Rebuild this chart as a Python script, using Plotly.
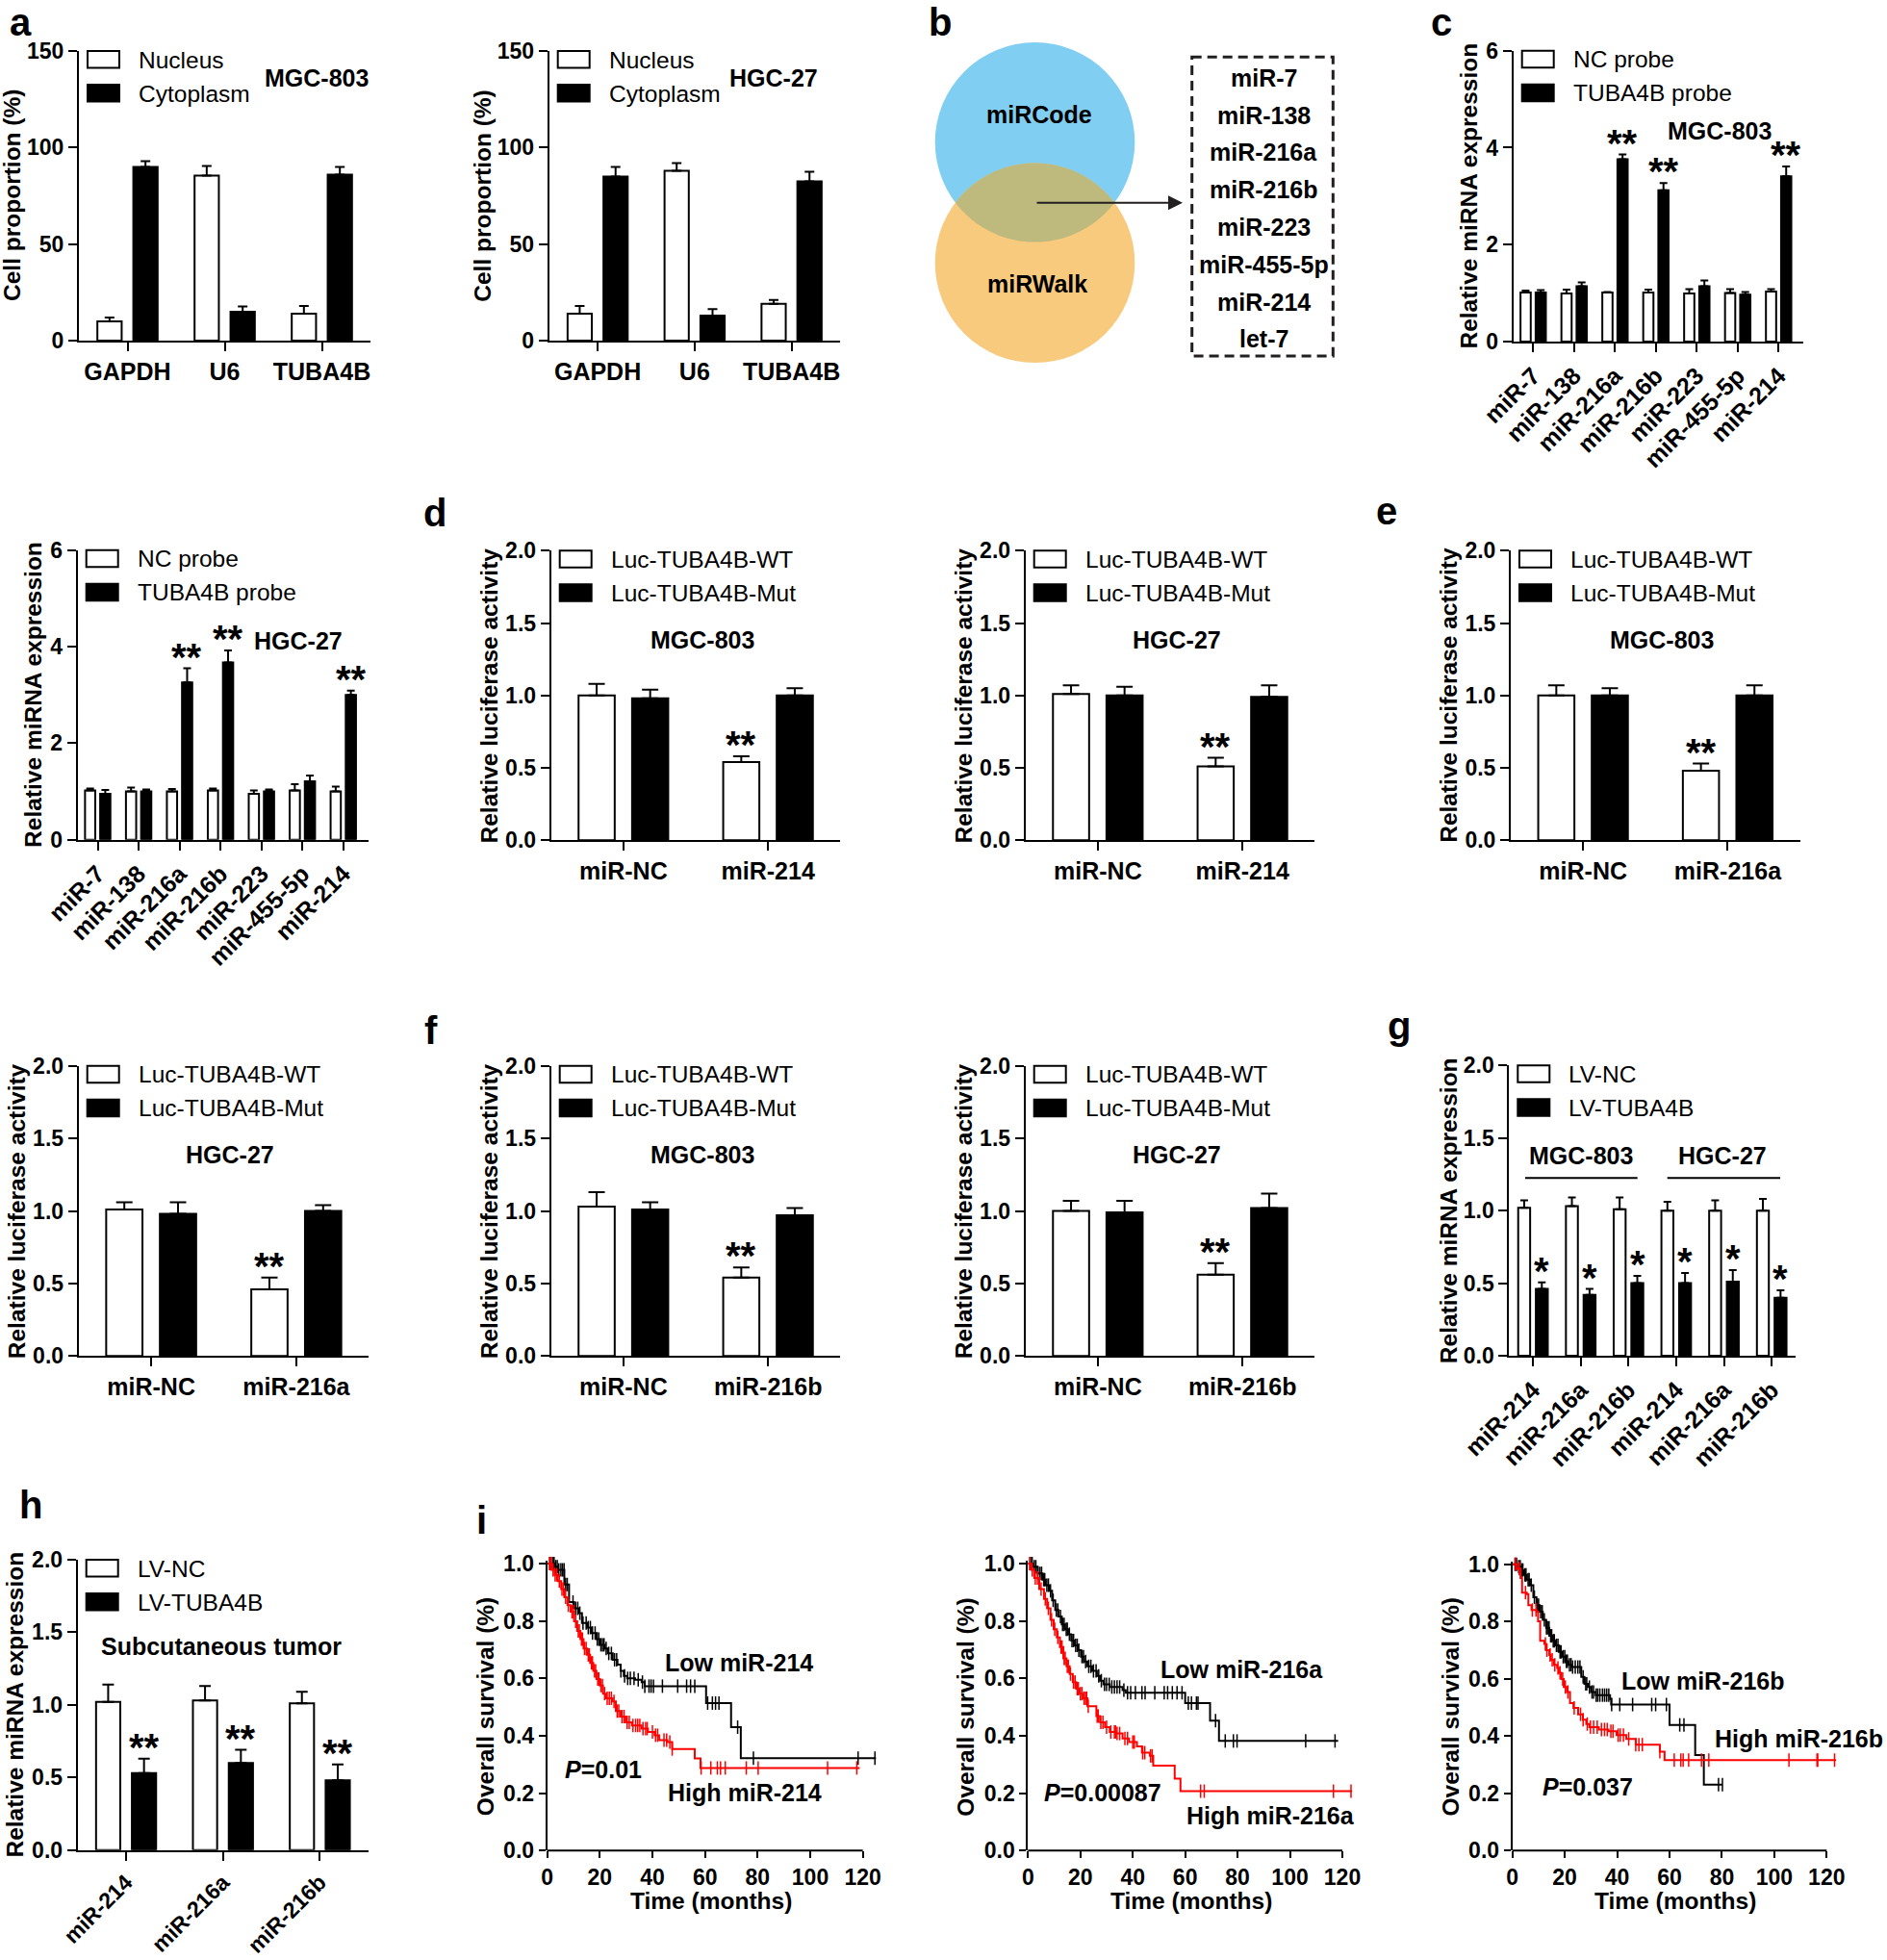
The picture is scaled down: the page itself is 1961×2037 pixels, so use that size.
import numpy as np
import plotly.graph_objects as go

W, H = 1961, 2037
FONT = "Liberation Sans, Arial, Helvetica, sans-serif"

# ---------------- data ----------------
a_cats = ["GAPDH", "U6", "TUBA4B"]
a1_nucleus = [10, 85.5, 14]
a1_nucleus_err = [2, 5, 4]
a1_cytoplasm = [90, 15, 86]
a1_cytoplasm_err = [3, 2.7, 4]
a2_nucleus = [14, 88, 19]
a2_nucleus_err = [4, 4, 2]
a2_cytoplasm = [85, 13, 82.5]
a2_cytoplasm_err = [5, 3.3, 5]

venn_sets = ["miRCode", "miRWalk"]
venn_list = ["miR-7", "miR-138", "miR-216a", "miR-216b", "miR-223", "miR-455-5p", "miR-214", "let-7"]

c_cats = ["miR-7", "miR-138", "miR-216a", "miR-216b", "miR-223", "miR-455-5p", "miR-214"]
c1_nc = [1.01, 0.99, 1.01, 1.01, 0.99, 1.00, 1.03]
c1_nc_err = [0.04, 0.08, 0.01, 0.06, 0.09, 0.08, 0.05]
c1_tuba = [1.01, 1.14, 3.76, 3.12, 1.14, 0.97, 3.41]
c1_tuba_err = [0.05, 0.08, 0.10, 0.15, 0.12, 0.05, 0.20]
c2_nc = [1.02, 1.00, 1.00, 1.02, 0.95, 1.02, 1.00]
c2_nc_err = [0.04, 0.08, 0.05, 0.04, 0.07, 0.13, 0.10]
c2_tuba = [0.95, 1.00, 3.26, 3.67, 1.00, 1.21, 3.00]
c2_tuba_err = [0.08, 0.04, 0.29, 0.25, 0.04, 0.12, 0.09]

d_cats = ["miR-NC", "miR-214"]
d1_wt = [1.00, 0.54]
d1_wt_err = [0.08, 0.04]
d1_mut = [0.98, 1.00]
d1_mut_err = [0.06, 0.05]
d2_wt = [1.01, 0.51]
d2_wt_err = [0.06, 0.06]
d2_mut = [1.00, 0.99]
d2_mut_err = [0.06, 0.08]

e_cats = ["miR-NC", "miR-216a"]
e1_wt = [1.00, 0.48]
e1_wt_err = [0.07, 0.05]
e1_mut = [1.00, 1.00]
e1_mut_err = [0.05, 0.07]
e2_wt = [1.01, 0.46]
e2_wt_err = [0.05, 0.08]
e2_mut = [0.98, 1.00]
e2_mut_err = [0.08, 0.04]

f_cats = ["miR-NC", "miR-216b"]
f1_wt = [1.03, 0.54]
f1_wt_err = [0.10, 0.07]
f1_mut = [1.01, 0.97]
f1_mut_err = [0.05, 0.05]
f2_wt = [1.00, 0.56]
f2_wt_err = [0.07, 0.08]
f2_mut = [0.99, 1.02]
f2_mut_err = [0.08, 0.10]

g_cats = ["miR-214", "miR-216a", "miR-216b", "miR-214", "miR-216a", "miR-216b"]
g_nc = [1.02, 1.03, 1.01, 1.00, 1.00, 1.00]
g_nc_err = [0.05, 0.06, 0.08, 0.06, 0.07, 0.08]
g_tuba = [0.46, 0.42, 0.50, 0.50, 0.51, 0.40]
g_tuba_err = [0.045, 0.04, 0.05, 0.07, 0.08, 0.05]

h_cats = ["miR-214", "miR-216a", "miR-216b"]
h_nc = [1.02, 1.03, 1.01]
h_nc_err = [0.12, 0.10, 0.08]
h_tuba = [0.53, 0.60, 0.48]
h_tuba_err = [0.10, 0.09, 0.11]

# Kaplan-Meier step curves (months, survival)
i1_low_t = [0, 2.8, 4, 6.5, 8.3, 10.2, 12.0, 13.2, 15.1, 16.9, 18.7, 19.9, 21.8, 23.0, 24.9, 26.7, 27.9, 29.1, 30.4, 33.4, 35.9, 37.1, 60.4, 69.9, 73.6, 125]
i1_low_s = [1.0, 0.989, 0.978, 0.927, 0.866, 0.844, 0.827, 0.793, 0.777, 0.758, 0.737, 0.717, 0.704, 0.687, 0.665, 0.648, 0.626, 0.609, 0.600, 0.595, 0.587, 0.573, 0.514, 0.430, 0.322, 0.322]
i1_low_cens = [1.2, 2.0, 2.6, 3.2, 3.8, 4.4, 5.2, 5.8, 6.4, 7.0, 7.6, 9.8, 10.8, 11.6, 12.4, 13.6, 14.8, 15.6, 16.4, 17.2, 18.2, 19.0, 19.6, 20.4, 21.0, 21.6, 22.4, 23.4, 24.4, 25.6, 26.4, 28.0, 29.4, 30.6, 31.6, 33.0, 34.6, 36.2, 37.1, 38.7, 39.5, 40.4, 43.8, 49.6, 53.0, 54.5, 56.1, 61.0, 62.8, 64.0, 65.3, 72.4, 78.4, 118.2, 124.6]
i1_high_t = [0, 1.6, 2.8, 4, 5.3, 6.5, 7.7, 8.9, 10.2, 11.4, 12.6, 13.8, 15.1, 16.3, 17.5, 18.7, 20.0, 21.2, 22.4, 24.9, 26.1, 27.9, 29.8, 32.2, 35.9, 38.3, 40.8, 42.6, 45.7, 47.5, 56.1, 58.3, 118.8]
i1_high_s = [1.0, 0.978, 0.961, 0.939, 0.911, 0.883, 0.855, 0.832, 0.799, 0.765, 0.737, 0.704, 0.682, 0.654, 0.626, 0.598, 0.575, 0.547, 0.531, 0.520, 0.486, 0.467, 0.447, 0.436, 0.425, 0.413, 0.402, 0.385, 0.378, 0.354, 0.321, 0.288, 0.288]
i1_high_cens = [0.8, 1.4, 2.2, 3.0, 3.6, 4.6, 5.6, 6.2, 7.0, 8.0, 9.4, 10.0, 10.8, 11.8, 12.2, 13.0, 13.4, 14.2, 14.8, 15.6, 16.0, 16.8, 17.2, 18.0, 18.4, 19.2, 19.6, 20.4, 21.0, 21.8, 22.8, 23.6, 24.4, 25.4, 26.6, 27.2, 28.4, 29.2, 30.4, 31.2, 32.6, 33.6, 34.4, 35.2, 36.4, 37.4, 38.0, 40.0, 41.2, 42.0, 44.4, 45.4, 46.6, 47.5, 58.5, 62.2, 64.7, 65.9, 67.7, 75.7, 80.2, 106.6, 117.7]

i2_low_t = [0, 1.8, 3.7, 5.5, 6.7, 8.0, 9.2, 10.4, 11.6, 12.9, 14.1, 15.3, 16.5, 17.8, 19.0, 20.2, 21.4, 22.7, 24.5, 26.3, 27.5, 28.8, 31.2, 36.1, 37.3, 60.0, 69.5, 72.9, 118.4]
i2_low_s = [1.0, 0.989, 0.966, 0.944, 0.925, 0.905, 0.872, 0.838, 0.816, 0.788, 0.771, 0.754, 0.732, 0.715, 0.698, 0.676, 0.659, 0.642, 0.626, 0.609, 0.592, 0.579, 0.570, 0.559, 0.550, 0.514, 0.453, 0.382, 0.382]
i2_low_cens = [1.0, 1.6, 2.4, 3.0, 3.8, 4.6, 5.2, 6.0, 6.4, 7.2, 7.8, 8.6, 9.6, 10.8, 11.4, 12.4, 13.2, 13.8, 14.6, 15.0, 15.8, 16.8, 17.4, 18.2, 18.8, 19.4, 20.6, 21.2, 22.0, 23.2, 24.0, 25.0, 26.0, 27.0, 28.0, 29.2, 30.0, 31.0, 32.0, 33.0, 34.0, 35.0, 36.6, 38.0, 39.2, 41.0, 43.5, 44.7, 48.4, 52.0, 53.3, 55.1, 56.9, 58.8, 61.2, 62.4, 64.3, 64.9, 71.6, 75.3, 78.4, 79.8, 106.0, 117.2]
i2_high_t = [0, 1.2, 2.4, 4.3, 6.1, 7.3, 8.6, 9.8, 11.0, 12.2, 13.5, 14.7, 15.9, 17.1, 18.4, 19.6, 20.8, 22.7, 26.1, 27.5, 29.4, 31.2, 33.7, 36.1, 38.6, 41.6, 43.5, 46.5, 47.8, 56.0, 58.2, 123.7]
i2_high_s = [1.0, 0.978, 0.950, 0.911, 0.877, 0.844, 0.804, 0.771, 0.743, 0.709, 0.670, 0.642, 0.615, 0.587, 0.564, 0.547, 0.531, 0.503, 0.469, 0.447, 0.430, 0.413, 0.408, 0.391, 0.378, 0.363, 0.341, 0.330, 0.296, 0.251, 0.207, 0.207]
i2_high_cens = [0.6, 1.6, 2.8, 3.6, 5.0, 6.6, 7.8, 9.0, 10.2, 11.4, 12.6, 13.0, 13.8, 14.2, 15.0, 15.4, 16.2, 17.4, 18.0, 18.8, 19.2, 20.0, 20.6, 21.4, 22.0, 22.4, 23.0, 26.4, 26.8, 27.8, 28.6, 30.0, 31.6, 33.0, 33.4, 34.0, 35.0, 37.0, 38.0, 40.0, 40.6, 43.8, 44.6, 46.8, 47.4, 65.9, 67.3, 116.6, 123.3]

i3_low_t = [0, 1.8, 3.1, 4.3, 5.5, 6.7, 8.0, 9.2, 10.4, 11.6, 12.9, 14.1, 15.3, 16.5, 17.7, 19.0, 20.2, 21.4, 22.6, 26.3, 27.5, 28.8, 30.0, 31.8, 37.3, 37.7, 60.0, 69.8, 73.1, 80.2]
i3_low_s = [1.0, 0.991, 0.980, 0.963, 0.946, 0.927, 0.885, 0.857, 0.834, 0.806, 0.778, 0.750, 0.733, 0.717, 0.694, 0.677, 0.661, 0.649, 0.641, 0.607, 0.582, 0.571, 0.554, 0.543, 0.529, 0.510, 0.439, 0.334, 0.230, 0.230]
i3_low_cens = [1.0, 1.6, 2.4, 3.0, 3.6, 4.0, 4.8, 5.2, 6.0, 6.4, 7.2, 8.4, 9.6, 10.0, 10.8, 11.4, 12.2, 13.0, 13.4, 14.0, 14.6, 15.0, 15.6, 16.0, 16.8, 17.4, 18.2, 18.6, 19.4, 20.0, 20.6, 21.0, 21.8, 22.4, 23.0, 24.0, 25.0, 25.8, 27.0, 28.0, 28.4, 29.4, 30.4, 31.0, 32.0, 32.6, 33.4, 34.4, 35.2, 36.0, 36.8, 37.9, 41.0, 45.9, 53.2, 54.7, 58.8, 63.9, 65.5, 78.7, 80.2]
i3_high_t = [0, 1.8, 3.1, 3.7, 5.5, 6.1, 7.3, 9.2, 9.8, 10.6, 12.2, 12.9, 14.1, 14.7, 15.9, 17.1, 17.7, 18.7, 19.6, 20.8, 22.0, 23.3, 25.1, 26.9, 28.2, 29.4, 33.0, 36.7, 39.8, 43.5, 47.1, 56.3, 58.1, 123.6]
i3_high_s = [1.0, 0.985, 0.952, 0.901, 0.896, 0.857, 0.840, 0.834, 0.801, 0.733, 0.722, 0.700, 0.683, 0.666, 0.649, 0.638, 0.621, 0.599, 0.571, 0.554, 0.515, 0.498, 0.476, 0.457, 0.442, 0.431, 0.423, 0.417, 0.403, 0.390, 0.370, 0.345, 0.316, 0.316]
i3_high_cens = [1.2, 2.6, 5.0, 7.6, 9.0, 12.6, 13.2, 14.4, 15.2, 16.2, 17.4, 18.2, 19.2, 20.2, 21.2, 23.6, 26.0, 27.0, 28.6, 29.8, 31.0, 32.4, 34.0, 35.2, 36.2, 37.6, 38.4, 40.4, 41.2, 42.4, 44.4, 47.1, 48.3, 49.6, 56.3, 61.8, 64.3, 65.2, 67.3, 72.2, 75.0, 105.6, 116.3, 116.6, 123.0]

km_x_ticks = [0, 20, 40, 60, 80, 100, 120]
km_y_ticks = [0.0, 0.2, 0.4, 0.6, 0.8, 1.0]

# ---------------- helpers ----------------
def px(x):
    return x / W


def py(y):
    return 1 - y / H


def ids(n):
    return ('x' if n == 1 else f'x{n}', 'y' if n == 1 else f'y{n}',
            'xaxis' if n == 1 else f'xaxis{n}', 'yaxis' if n == 1 else f'yaxis{n}')


def tfont(size, bold=True):
    return dict(family=FONT, size=size, color='black', weight='bold' if bold else 'normal')


fig = go.Figure()
layout = dict(template='none', width=W, height=H,
              margin=dict(l=0, r=0, t=0, b=0, pad=0, autoexpand=False),
              paper_bgcolor='white', plot_bgcolor='white', showlegend=False,
              font=dict(family=FONT, color='black'))
shapes = []
annotations = []


def text(x, y, s, size=25, bold=True, xanchor='center', yanchor='middle', angle=0):
    annotations.append(dict(x=px(x), y=py(y), xref='paper', yref='paper', text=s,
                            showarrow=False, xanchor=xanchor, yanchor=yanchor,
                            textangle=angle, font=tfont(size, bold)))


def legend(ax_x, top, labels):
    for k, (lab, fill) in enumerate(zip(labels, ['white', 'black'])):
        y0 = top + 35 * k
        shapes.append(dict(type='rect', xref='paper', yref='paper',
                           x0=px(ax_x + 9), x1=px(ax_x + 42), y0=py(y0), y1=py(y0 + 17.5),
                           fillcolor=fill, line=dict(color='black', width=2)))
        text(ax_x + 60, y0 + 9, lab, size=24.5, bold=False, xanchor='left')


OFFS = (-0.31, 0.06)
BW = 0.25
AXCOMMON = dict(tickcolor='black', showgrid=False, zeroline=False, fixedrange=True,
                tickmode='array', linewidth=2, linecolor='black', automargin=False,
                tickwidth=2, ticks='outside')


def bar_panel(n, box, xr, yr, ytv, ytt, cats, v_open, e_open, v_fill, e_fill, capw,
              tickangle=0, ticklen=9, xfont=25):
    xa, ya, xk, yk = ids(n)
    x0, x1, ytop, ybot = box
    pos = list(range(len(cats)))
    for v, e, col, off in ((v_open, e_open, 'white', OFFS[0]), (v_fill, e_fill, 'black', OFFS[1])):
        fig.add_trace(go.Bar(
            x=pos, y=v, width=BW, offset=off, xaxis=xa, yaxis=ya,
            marker=dict(color=col, line=dict(color='black', width=2)),
            error_y=dict(type='data', symmetric=False, array=e, arrayminus=[0] * len(v),
                         color='black', thickness=2, width=capw),
            hoverinfo='skip', showlegend=False))
    layout[xk] = dict(domain=[px(x0), px(x1)], range=xr, anchor=ya, tickvals=pos,
                      ticktext=cats, tickangle=tickangle, tickfont=tfont(xfont), showline=True,
                      ticklen=ticklen, **AXCOMMON)
    layout[yk] = dict(domain=[py(ybot), py(ytop)], range=yr, anchor=xa, tickvals=ytv,
                      ticktext=ytt, tickfont=tfont(23), showline=True, ticklen=ticklen,
                      **AXCOMMON)


def stars(n, idxs, vals, errs, off, s):
    xa, ya, _, _ = ids(n)
    for i in idxs:
        annotations.append(dict(x=i + off + BW / 2, y=vals[i] + errs[i], xref=xa, yref=ya,
                                text=s, showarrow=False, xanchor='center', yanchor='middle',
                                yshift=12, font=tfont(40)))


def ytitle(x, box, s):
    text(x, (box[2] + box[3]) / 2, s, size=24.5, angle=-90)


lum_ticks = [0, 0.5, 1.0, 1.5, 2.0]
lum_text = ['0.0', '0.5', '1.0', '1.5', '2.0']

# ---------------- panel a ----------------
A1 = (82, 385, 53, 354)
A2 = (570.7, 873, 53, 354)
bar_panel(1, A1, [-0.5, 2.5], [0, 150], [0, 50, 100, 150], ['0', '50', '100', '150'],
          a_cats, a1_nucleus, a1_nucleus_err, a1_cytoplasm, a1_cytoplasm_err, 5)
bar_panel(2, A2, [-0.5, 2.5], [0, 150], [0, 50, 100, 150], ['0', '50', '100', '150'],
          a_cats, a2_nucleus, a2_nucleus_err, a2_cytoplasm, a2_cytoplasm_err, 5)
legend(A1[0], A1[2], ['Nucleus', 'Cytoplasm'])
legend(A2[0], A2[2], ['Nucleus', 'Cytoplasm'])
text(329, 81, 'MGC-803')
text(804, 81, 'HGC-27')
ytitle(A1[0] - 69.5, A1, 'Cell proportion (%)')
ytitle(A2[0] - 69.5, A2, 'Cell proportion (%)')

# ---------------- panel b (Venn) ----------------
xa3, ya3, xk3, yk3 = ids(3)
layout[xk3] = dict(domain=[px(950), px(1400)], range=[950, 1400], visible=False,
                   anchor=ya3, fixedrange=True, automargin=False)
layout[yk3] = dict(domain=[py(390), py(30)], range=[390, 30], visible=False,
                   anchor=xa3, fixedrange=True, automargin=False)
fig.add_trace(go.Scatter(x=[1000], y=[100], mode='markers', marker=dict(opacity=0),
                         xaxis=xa3, yaxis=ya3, hoverinfo='skip', showlegend=False))
vcx, vcy1, vcy2, vr = 1075.5, 147.8, 273.3, 103.8
shapes.append(dict(type='circle', xref=xa3, yref=ya3, x0=vcx - vr, x1=vcx + vr,
                   y0=vcy1 - vr, y1=vcy1 + vr, fillcolor='#80CEF1', line=dict(width=0),
                   layer='below'))
shapes.append(dict(type='circle', xref=xa3, yref=ya3, x0=vcx - vr, x1=vcx + vr,
                   y0=vcy2 - vr, y1=vcy2 + vr, fillcolor='#F8CA7E', line=dict(width=0),
                   layer='below'))
th = np.arcsin(((vcy2 - vcy1) / 2) / vr)
arc1 = np.linspace(th, np.pi - th, 80)
arc2 = np.linspace(np.pi + th, 2 * np.pi - th, 80)
pts = [(vcx + vr * np.cos(a), vcy1 + vr * np.sin(a)) for a in arc1] + \
      [(vcx + vr * np.cos(a), vcy2 + vr * np.sin(a)) for a in arc2]
lens = 'M ' + ' L '.join(f'{x:.2f},{y:.2f}' for x, y in pts) + ' Z'
shapes.append(dict(type='path', xref=xa3, yref=ya3, path=lens, fillcolor='#BEB97D',
                   line=dict(width=0), layer='below'))
text(1079.5, 119, venn_sets[0])
text(1077.5, 295, venn_sets[1])
annotations.append(dict(x=1229, y=210.7, ax=1076, ay=210.7, xref=xa3, yref=ya3,
                        axref=xa3, ayref=ya3, showarrow=True, arrowhead=2, arrowsize=1.5,
                        arrowwidth=2, arrowcolor='#231f20', text=''))
shapes.append(dict(type='rect', xref=xa3, yref=ya3, x0=1238.7, x1=1385.3, y0=59.3, y1=370,
                   line=dict(color='#231f20', width=3, dash='10px,6px')))
for k, name in enumerate(venn_list):
    text(1313, 81 + 38.75 * k, name)

# ---------------- panel c ----------------
C1 = (1572.7, 1874.3, 52.7, 355)
C2 = (80.7, 382.7, 571.7, 872.7)
bar_panel(4, C1, [-0.485, 6.61], [0, 6], [0, 2, 4, 6], ['0', '2', '4', '6'],
          c_cats, c1_nc, c1_nc_err, c1_tuba, c1_tuba_err, 4, tickangle=-45)
bar_panel(5, C2, [-0.49, 6.61], [0, 6], [0, 2, 4, 6], ['0', '2', '4', '6'],
          c_cats, c2_nc, c2_nc_err, c2_tuba, c2_tuba_err, 4, tickangle=-45)
legend(C1[0], C1[2], ['NC probe', 'TUBA4B probe'])
legend(C2[0], C2[2], ['NC probe', 'TUBA4B probe'])
stars(4, [2, 3, 6], c1_tuba, c1_tuba_err, OFFS[1], '**')
stars(5, [2, 3, 6], c2_tuba, c2_tuba_err, OFFS[1], '**')
text(1786.7, 136, 'MGC-803')
text(310, 665.7, 'HGC-27')
ytitle(C1[0] - 46, C1, 'Relative miRNA expression')
ytitle(C2[0] - 46, C2, 'Relative miRNA expression')

# ---------------- panels d, e, f ----------------
D1 = (572.7, 873.3, 572.3, 873.3)
D2 = (1065.7, 1366.3, 572.3, 873.3)
E1 = (1570, 1870.6, 572.3, 873.3)
E2 = (81.7, 383.3, 1107.7, 1409.3)
F1 = (572.7, 873.3, 1107.7, 1409.3)
F2 = (1065.7, 1366.3, 1107.7, 1409.3)
luc = [
    (6, D1, d_cats, d1_wt, d1_wt_err, d1_mut, d1_mut_err, 'MGC-803'),
    (7, D2, d_cats, d2_wt, d2_wt_err, d2_mut, d2_mut_err, 'HGC-27'),
    (8, E1, e_cats, e1_wt, e1_wt_err, e1_mut, e1_mut_err, 'MGC-803'),
    (9, E2, e_cats, e2_wt, e2_wt_err, e2_mut, e2_mut_err, 'HGC-27'),
    (10, F1, f_cats, f1_wt, f1_wt_err, f1_mut, f1_mut_err, 'MGC-803'),
    (11, F2, f_cats, f2_wt, f2_wt_err, f2_mut, f2_mut_err, 'HGC-27'),
]
for n, box, cats, wt, wte, mut, mute, cell in luc:
    bar_panel(n, box, [-0.5, 1.5], [0, 2], lum_ticks, lum_text, cats, wt, wte, mut, mute, 8.5)
    legend(box[0], box[2], ['Luc-TUBA4B-WT', 'Luc-TUBA4B-Mut'])
    stars(n, [1], wt, wte, OFFS[0], '**')
    text(box[0] + 157, box[2] + 92.5, cell)
    ytitle(box[0] - 64, box, 'Relative luciferase activity')

# ---------------- panel g ----------------
G = (1568.3, 1866, 1107.3, 1409)
bar_panel(12, G, [-0.5, 5.5], [0, 2], lum_ticks, lum_text, g_cats, g_nc, g_nc_err,
          g_tuba, g_tuba_err, 4, tickangle=-45)
legend(G[0], G[2], ['LV-NC', 'LV-TUBA4B'])
stars(12, range(6), g_tuba, g_tuba_err, OFFS[1], '*')
text(1643.3, 1201, 'MGC-803')
text(1789.7, 1201, 'HGC-27')
for gx0, gx1 in ((1585, 1701.7), (1732.7, 1850)):
    shapes.append(dict(type='line', xref='paper', yref='paper', x0=px(gx0), x1=px(gx1),
                       y0=py(1224.3), y1=py(1224.3), line=dict(color='black', width=2)))
ytitle(G[0] - 63.3, G, 'Relative miRNA expression')

# ---------------- panel h ----------------
HB = (80.7, 382.7, 1621, 1922.7)
bar_panel(13, HB, [-0.5, 2.5], [0, 2], lum_ticks, lum_text, h_cats, h_nc, h_nc_err,
          h_tuba, h_tuba_err, 6, tickangle=-45, xfont=23)
legend(HB[0], HB[2], ['LV-NC', 'LV-TUBA4B'])
stars(13, range(3), h_tuba, h_tuba_err, OFFS[1], '**')
text(230, 1710.7, 'Subcutaneous tumor')
ytitle(HB[0] - 65, HB, 'Relative miRNA expression')

# ---------------- panel i (Kaplan-Meier) ----------------
RED = '#FF0000'


def step_at(ts, ss, t):
    idx = int(np.searchsorted(np.array(ts), t, side='right')) - 1
    return ss[max(idx, 0)]


def km_panel(n, x0, ppm, y1px, y0px, low, high, low_lab, high_lab, p_lab):
    xa, ya, xk, yk = ids(n)
    x1 = x0 + 127 * ppm
    ytop = y0px - 1.01 * (y0px - y1px)
    for (ts, ss, cens), col in ((low, 'black'), (high, RED)):
        fig.add_trace(go.Scatter(x=ts, y=ss, mode='lines', xaxis=xa, yaxis=ya,
                                 line=dict(color=col, width=2, shape='hv'),
                                 hoverinfo='skip', showlegend=False))
        fig.add_trace(go.Scatter(x=cens, y=[step_at(ts, ss, t) for t in cens], mode='markers',
                                 xaxis=xa, yaxis=ya, cliponaxis=False,
                                 marker=dict(symbol='line-ns-open', size=10, color=col,
                                             line=dict(width=1.5, color=col)),
                                 hoverinfo='skip', showlegend=False))
    layout[xk] = dict(domain=[px(x0), px(x1)], range=[0, 127], anchor=ya, showline=False,
                      tickvals=km_x_ticks, ticktext=[str(v) for v in km_x_ticks], ticklen=7,
                      tickfont=tfont(23), **AXCOMMON)
    layout[yk] = dict(domain=[py(y0px), py(ytop)], range=[0, 1.01], anchor=xa, showline=True,
                      tickvals=km_y_ticks, ticktext=[f'{v:.1f}' for v in km_y_ticks], ticklen=7,
                      tickfont=tfont(23), **AXCOMMON)
    shapes.append(dict(type='line', xref='paper', yref='paper', x0=px(x0), x1=px(x0 + 120 * ppm),
                       y0=py(y0px), y1=py(y0px), line=dict(color='black', width=2)))
    text(x0 - 64.7, (y1px + y0px) / 2, 'Overall survival (%)', size=24.5, angle=-90)
    text(x0 + 60 * ppm + 6, 1975, 'Time (months)', size=24.5)
    for (lx, ly, s) in (low_lab, high_lab):
        text(lx, ly, s, size=25)
    text(p_lab[0], p_lab[1], p_lab[2], size=25, xanchor='left')


km_panel(14, 568.7, 2.733, 1625, 1923.3,
         (i1_low_t, i1_low_s, i1_low_cens), (i1_high_t, i1_high_s, i1_high_cens),
         (768.3, 1728.3, 'Low miR-214'), (773.7, 1863.3, 'High miR-214'),
         (585, 1839.3, '<i>P</i>=0.01'))
km_panel(15, 1068.3, 2.7225, 1625, 1923.3,
         (i2_low_t, i2_low_s, i2_low_cens), (i2_high_t, i2_high_s, i2_high_cens),
         (1290.3, 1735, 'Low miR-216a'), (1320.3, 1886.7, 'High miR-216a'),
         (1083, 1862.7, '<i>P</i>=0.00087'))
km_panel(16, 1571.7, 2.7217, 1625.7, 1923.3,
         (i3_low_t, i3_low_s, i3_low_cens), (i3_high_t, i3_high_s, i3_high_cens),
         (1769.8, 1747.3, 'Low miR-216b'), (1869.5, 1807.3, 'High miR-216b'),
         (1600.5, 1856.7, '<i>P</i>=0.037'))

# ---------------- panel letters ----------------
for letter, lx, ly in (('a', 8, 23.5), ('b', 963, 23.5), ('c', 1485, 23.5), ('d', 438, 533.5),
                       ('e', 1428, 530.6), ('f', 439, 1071), ('g', 1440, 1065.6),
                       ('h', 18, 1563.5), ('i', 493, 1580)):
    text(lx, ly, letter, size=40, xanchor='left')

layout['shapes'] = shapes
layout['annotations'] = annotations
fig.update_layout(**layout)
fig.write_html("out.html",
               config={'displayModeBar': False, 'staticPlot': True},
               post_script="document.body.style.margin='0px';document.body.style.padding='0px';"
                           "document.body.style.overflow='hidden';")
